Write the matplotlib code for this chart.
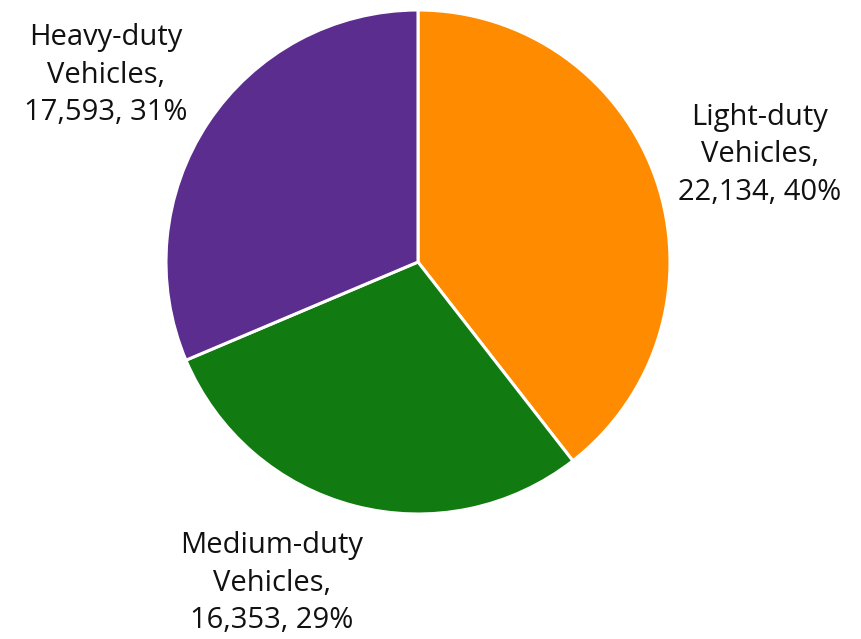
import matplotlib.pyplot as plt

names = ["Light-duty\nVehicles,", "Medium-duty\nVehicles,", "Heavy-duty\nVehicles,"]
counts = [22134, 16353, 17593]
pcts = [40, 29, 31]
colors = ["#FF8C00", "#117A11", "#5B2D8E"]

# label centres, in units of the pie radius
label_pos = [(1.357, 0.425), (-0.579, -1.274), (-1.238, 0.742)]

plt.rcParams['font.family'] = ['Open Sans', 'DejaVu Sans']

fig = plt.figure(figsize=(8.61, 6.39), dpi=100)
ax = fig.add_axes([166 / 861, 125 / 639, 504 / 861, 504 / 639])
wedges, _ = ax.pie(counts, colors=colors, startangle=90, counterclock=False, radius=1,
                   wedgeprops=dict(edgecolor="white", linewidth=2.2))
for n, c, p, (x, y) in zip(names, counts, pcts, label_pos):
    ax.text(x, y, "%s\n%s, %d%%" % (n, format(c, ","), p), ha="center", va="center",
            multialignment="center", fontsize=21, color="#111111", linespacing=1.38,
            clip_on=False)
ax.set_xlim(-1, 1)
ax.set_ylim(-1, 1)
ax.set_aspect("equal")
ax.axis("off")

fig.savefig("out.png", dpi=100)
